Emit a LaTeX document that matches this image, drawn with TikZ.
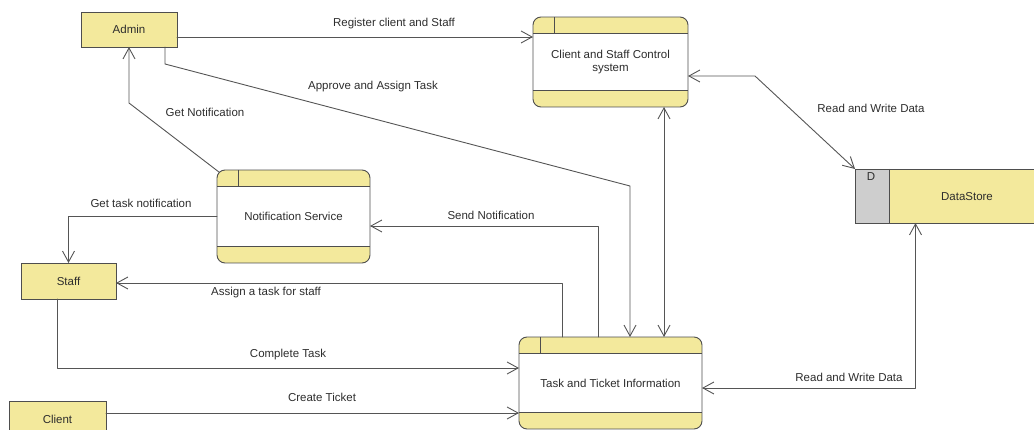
\documentclass[tikz,border=0pt]{standalone}
\usepackage{fontspec}
\setmainfont{Liberation Sans}
\usetikzlibrary{arrows.meta}

\definecolor{boxfill}{RGB}{243,233,156}
\definecolor{storegray}{RGB}{206,206,206}
\definecolor{edge}{RGB}{78,78,78}
\definecolor{wire}{RGB}{85,85,85}
\definecolor{ink}{RGB}{45,45,45}

\tikzset{
  every node/.style={font=\fontsize{11.5}{13.5}\selectfont, text=ink},
  >={Straight Barb[length=11pt,width=12pt]},
  entity/.style={draw=edge, fill=boxfill, line width=0.9pt, inner sep=0pt, outer sep=0pt},
  process/.style={draw=edge, fill=white, line width=0.9pt, rounded corners=8pt,
    inner sep=0pt, outer sep=0pt, align=center,
    path picture={
      \fill[boxfill, sharp corners] (path picture bounding box.north west)
        rectangle ([yshift=-16.5pt]path picture bounding box.north east);
      \fill[boxfill, sharp corners] (path picture bounding box.south west)
        rectangle ([yshift=16.5pt]path picture bounding box.south east);
      \draw[edge, line width=0.9pt, sharp corners]
        ([yshift=-16.5pt]path picture bounding box.north west) -- ([yshift=-16.5pt]path picture bounding box.north east)
        ([yshift=16.5pt]path picture bounding box.south west) -- ([yshift=16.5pt]path picture bounding box.south east)
        ([xshift=21pt]path picture bounding box.north west) -- ([xshift=21pt,yshift=-16.5pt]path picture bounding box.north west);
    }},
  store/.style={draw=edge, fill=boxfill, line width=0.9pt, inner sep=0pt, outer sep=0pt,
    path picture={
      \fill[storegray] (path picture bounding box.north west)
        rectangle ([xshift=34pt]path picture bounding box.south west);
      \draw[edge, line width=0.9pt] ([xshift=34pt]path picture bounding box.north west)
        -- ([xshift=34pt]path picture bounding box.south west);
    }},
  flow/.style={draw=wire, line width=0.9pt, ->, line cap=round, line join=round},
  flowboth/.style={draw=wire, line width=0.9pt, <->, line cap=round, line join=round},
  lbl/.style={inner sep=0pt}
}

\begin{document}
\begin{tikzpicture}[x=1pt, y=-1pt]
\useasboundingbox (0,0) rectangle (1034,430);

% external entities
\node[entity, minimum width=96pt, minimum height=35pt] (admin) at (129,29.5) {Admin};
\node[entity, minimum width=95pt, minimum height=36pt] (staff) at (68.5,281) {Staff};
\node[entity, minimum width=97pt, minimum height=36pt] (client) at (57.5,419) {Client};

% processes
\node[process, minimum width=155pt, minimum height=90pt] (ctrl) at (610.5,62) {Client and Staff Control\\system};
\node[process, minimum width=153pt, minimum height=93pt] (notif) at (293.5,216.5) {Notification Service};
\node[process, minimum width=183pt, minimum height=92pt] (task) at (610.5,383) {Task and Ticket Information};

% data store
\node[store, minimum width=190pt, minimum height=54pt] (ds) at (950,196) {};
\node (dsname) at (967,197) {DataStore};
\node (dsid) at (871,177) {D};

% bend points
\coordinate (ap1) at (165,64);
\coordinate (ap2) at (630,186);
\coordinate (sn) at (598,226);
\coordinate (as) at (562.5,283);
\coordinate (gn) at (129,103);
\coordinate (rw) at (755,76);

% flows
\draw[flow] ([yshift=-7.5pt]admin.east) -- ([yshift=25pt]ctrl.west);
\draw[flow] ([xshift=36pt]admin.south) -- (ap1) -- (ap2) -- (ap2 |- task.north);
\draw[flowboth] ([xshift=53.5pt]ctrl.south) -- ([xshift=53.5pt]task.north);
\draw[flow] (sn |- task.north) -- (sn) -- (sn -| notif.east);
\draw[flow] (as |- task.north) -- (as) -- (as -| staff.east);
\draw[flow] ([xshift=2.3pt,yshift=-2.3pt]notif.north west) -- (gn) -- (admin.south);
\draw[flow] (notif.west) -| (staff.north);
\draw[flow] ([xshift=-11.5pt]staff.south) |- ([yshift=15pt]task.west);
\draw[flow] ([yshift=6pt]client.east) -- ([yshift=-30pt]task.west);
\draw[flowboth] ([yshift=-5pt]task.east) -| ([xshift=-34.5pt]ds.south);
\draw[flowboth] ([yshift=-14pt]ctrl.east) -- (rw) -- (ds.north west);

% flow labels
\node[lbl] (l1) at (394,24) {Register client and Staff};
\node[lbl] (l2) at (373,87) {Approve and Assign Task};
\node[lbl] (l3) at (205,112) {Get Notification};
\node[lbl] (l4) at (141,203) {Get task notification};
\node[lbl] (l5) at (871,108) {Read and Write Data};
\node[lbl] (l6) at (491,215) {Send Notification};
\node[lbl] (l7) at (266,293) {Assign a task for staff};
\node[lbl] (l8) at (288,355) {Complete Task};
\node[lbl] (l9) at (322,397) {Create Ticket};
\node[lbl] (l10) at (849,377) {Read and Write Data};
\end{tikzpicture}
\end{document}
